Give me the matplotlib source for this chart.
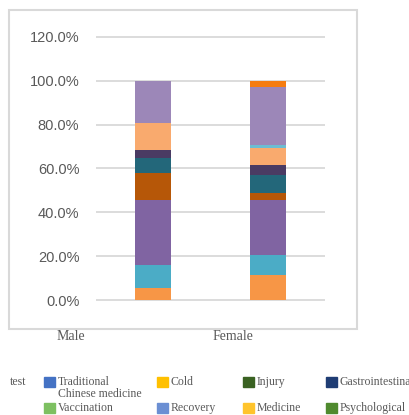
import numpy as np
import matplotlib.pyplot as plt
from matplotlib.patches import Rectangle

categories = ['Male', 'Female']

# segment shares in percent, listed bottom to top
male_share = [5.3, 10.7, 29.7, 12.1, 7.2, 3.3, 12.4, 0.0, 19.3, 0.0]
female_share = [11.4, 9.1, 25.2, 3.0, 8.4, 4.5, 7.7, 1.5, 26.3, 2.9]
seg_colors = ['#F79646', '#4BACC6', '#8064A2', '#B65708', '#23677A',
              '#4A3B63', '#F9AA6E', '#6CBCD2', '#9C87B8', '#F57C10']

yticks = [0, 20, 40, 60, 80, 100, 120]

legend_row1 = ['Traditional\nChinese medicine', 'Cold', 'Injury', 'Gastrointestinal']
legend_row1_colors = ['#4472C4', '#FFC000', '#3A6222', '#1F3D74']
legend_row2 = ['Vaccination', 'Recovery', 'Medicine', 'Psychological']
legend_row2_colors = ['#7DC061', '#6B8FD3', '#FFC42C', '#4F8A2E']

W, H = 410, 415
fig = plt.figure(figsize=(W / 100, H / 100), dpi=100)

def fx(px):
    return px / W

def fy(py):
    return 1 - py / H

ax = fig.add_axes([fx(96), fy(302.2), fx(325) - fx(96), fy(34.8) - fy(302.2)])

x = np.arange(len(categories))
bottom = np.zeros(len(categories))
for m, f, c in zip(male_share, female_share, seg_colors):
    vals = np.array([m, f])
    ax.bar(x, vals, width=0.314, bottom=bottom, color=c, linewidth=0, zorder=3)
    bottom += vals

ax.set_xlim(-0.5, 1.5)
ax.set_ylim(-1, 121)
ax.set_yticks(yticks)
ax.set_yticklabels([f'{v:.1f}%' for v in yticks], family='Liberation Sans',
                   fontsize=10.5, color='#595959')
ax.set_xticks([])
ax.tick_params(axis='y', length=0, pad=12)
ax.yaxis.grid(True, color='#D9D9D9', linewidth=1.3)
ax.set_axisbelow(True)
for s in ax.spines.values():
    s.set_visible(False)

# chart frame
fig.patches.append(Rectangle((fx(9), fy(329)), fx(357) - fx(9), fy(10) - fy(329),
                             transform=fig.transFigure, fill=False,
                             edgecolor='#D9D9D9', linewidth=1.5))

# category names under the frame
for name, px in zip(categories, [70.5, 232.5]):
    fig.text(fx(px), fy(337), name, ha='center', va='center',
             family='Liberation Serif', fontsize=10, color='#595959')

# legend below
serif = dict(family='Liberation Serif', fontsize=8.5, color='#595959')
fig.text(fx(10), fy(381.7), 'test', va='center', **serif)
col_x = [44, 157, 243, 326]
for labels, colors, yc in [(legend_row1, legend_row1_colors, 381.7),
                           (legend_row2, legend_row2_colors, 407.5)]:
    for lab, c, px in zip(labels, colors, col_x):
        fig.patches.append(Rectangle((fx(px), fy(yc + 5)), fx(11), 10 / H,
                                     transform=fig.transFigure, color=c))
        fig.text(fx(px + 14), fy(yc - 6), lab, va='top', linespacing=1.05, **serif)

fig.savefig('out.png', dpi=100)
